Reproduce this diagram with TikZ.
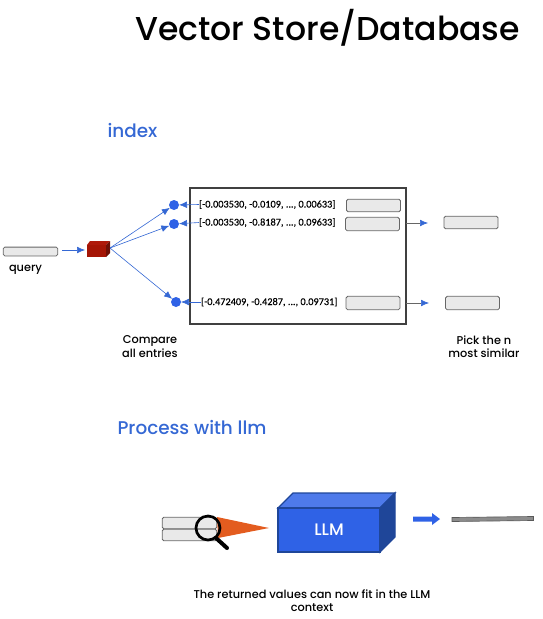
\documentclass[tikz,border=0pt]{standalone}
\usepackage{fontspec}
\setmainfont{Poppins Medium}
\newfontfamily\numfont[FakeBold=0.3]{Carlito}
\usetikzlibrary{arrows.meta,calc}
\definecolor{blu}{HTML}{2F62E6}
\definecolor{ttl}{HTML}{3568D4}
\definecolor{fillg}{HTML}{E9E9E9}
\definecolor{edgeg}{HTML}{666666}
\definecolor{llmedge}{HTML}{1F4699}
\tikzset{
 px/.style={inner sep=0pt,outer sep=0pt},
 bar/.style={draw=edgeg,fill=fillg,rounded corners=1.2pt,line width=0.6pt,px},
 dot/.style={circle,fill=blu,minimum size=7.5pt,px},
 link/.style={draw=ttl,line width=0.45pt,-{Latex[length=6pt,width=5pt]}},
 outlink/.style={draw=edgeg,line width=0.45pt,-{Latex[length=6pt,width=5pt,color=ttl]}},
 lab/.style={font=\fontsize{8.5pt}{10pt}\selectfont,align=center,px},
 num/.style={font=\numfont\fontsize{7.7pt}{8pt}\selectfont,anchor=west,px},
 head/.style={font=\fontsize{13.8pt}{16pt}\selectfont,text=ttl,anchor=west,px},
}
\begin{document}
\begin{tikzpicture}[x=0.75pt,y=-0.75pt]
\useasboundingbox (0,0) rectangle (543,619);
\node[px,font=\fontsize{24.8pt}{28pt}\selectfont] (title) at (327.5,28) {Vector Store/Database};
\node[head] (index) at (107.5,130) {index};
\node[head] (proc) at (117.5,427) {Process with llm};
% query
\node[bar,minimum width=41pt,minimum height=6.6pt] (query) at (30.5,251.5) {};
\node[lab] (qlab) at (25.5,269.5) {query};
% cube
\fill[fill={rgb,255:red,165;green,21;blue,5}] (87,245) rectangle (106,257);
\fill[fill={rgb,255:red,175;green,25;blue,10}] (87,245) -- (90,241) -- (110,241) -- (106,245) -- cycle;
\fill[fill={rgb,255:red,110;green,15;blue,5}] (106,245) -- (110,241) -- (110,253) -- (106,257) -- cycle;
\coordinate (cubeL) at (85,250);
\coordinate (cubeR) at (110,248);
\coordinate (qout) at (62,250);
\draw[link] (qout) -- (cubeL);
% store
\node[draw=black!75,line width=1.5pt,minimum width=162pt,minimum height=101.5pt,px] (store) at (298,256) {};
\node[dot] (d1) at (174,205) {};
\node[dot] (d2) at (174,224) {};
\node[dot] (d3) at (176,302) {};
\draw[link] (cubeR) -- (d1);
\draw[link] (cubeR) -- (d2);
\draw[link] (cubeR) -- (d3);
\node[num] (v1) at (199,204.5) {[-0.003530, -0.0109, ..., 0.00633]};
\node[num] (v2) at (199,222.5) {[-0.003530, -0.8187, ..., 0.09633]};
\node[num] (v3) at (201,302) {[-0.472409, -0.4287, ..., 0.09731]};
\draw[link] (v1.west) -- (d1);
\draw[link] (v2.west) -- (d2);
\draw[link] (v3.west) -- (d3);
\node[bar,minimum width=40.5pt,minimum height=9.5pt] (r1) at (373.5,205.5) {};
\node[bar,minimum width=40.5pt,minimum height=10pt] (r2) at (372.5,224) {};
\node[bar,minimum width=40.5pt,minimum height=10pt] (r3) at (373,303) {};
\node[bar,minimum width=40.5pt,minimum height=9.5pt] (o2) at (471,222.5) {};
\node[bar,minimum width=40.5pt,minimum height=10pt] (o3) at (472.5,303) {};
\coordinate (e2) at (428,223);
\coordinate (e3) at (429,303);
\draw[outlink] (store.east |- e2) -- (e2);
\draw[outlink] (store.east |- e3) -- (e3);
\node[lab] (cmp) at (150,346.5) {Compare\\all entries};
\node[lab] (pick) at (484,346.5) {Pick the n\\most similar};
% bottom
\node[bar,minimum width=41pt,minimum height=8.6pt] (b1) at (189.5,523) {};
\node[bar,minimum width=41pt,minimum height=8.6pt] (b2) at (189.5,535) {};
\fill[fill={rgb,255:red,227;green,92;blue,31}] (217,517) -- (269,528) -- (218,538) -- cycle;
\draw[line width=2pt,black] (208,528) circle (12);
\draw[line width=3pt,black,line cap=round] (216,538) -- (227,548);
% LLM box
\draw[draw=llmedge,line width=1pt,fill=blu!85!white] (278,508) -- (293,493) -- (395,493) -- (380,508) -- cycle;
\draw[draw=llmedge,line width=1pt,fill=llmedge] (380,508) -- (395,493) -- (395,537) -- (380,552) -- cycle;
\node[draw=llmedge,line width=1pt,fill=blu,minimum width=76.5pt,minimum height=33pt,px,text=white,font=\fontsize{12.5pt}{14pt}\selectfont] (llm) at (329,530) {LLM};
\fill[blu] (413,516.5) -- (432,516.5) -- (432,513) -- (440,519) -- (432,525) -- (432,521.5) -- (413,521.5) -- cycle;
\fill[draw=black!65,fill=black!45,line width=0.5pt] (452,517.5) -- (533.5,516.5) -- (533.5,520.5) -- (452,521.5) -- cycle;
\node[lab] (ret) at (312,600.5) {The returned values can now fit in the LLM\\context};
\end{tikzpicture}
\end{document}
